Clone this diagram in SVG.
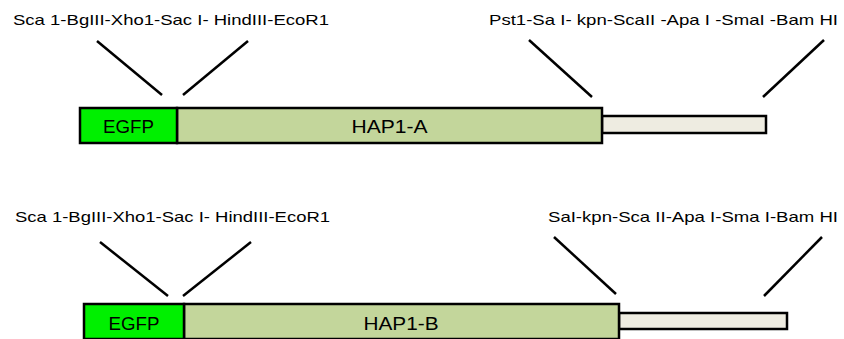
<svg xmlns="http://www.w3.org/2000/svg" width="844" height="339" viewBox="0 0 844 339">
<style>
.lbl{font-family:"Liberation Sans",Arial,sans-serif;font-size:15px;fill:#000}
.big{font-family:"Liberation Sans",Arial,sans-serif;font-size:18px;fill:#000;text-anchor:middle}
.box{stroke:#000;stroke-width:2.5}
.egfp{fill:#00F000}
.hap{fill:#C3D69B}
.tail{fill:#EEECE1}
.ln{stroke:#000;stroke-width:2.5;fill:none}
</style>
<rect width="844" height="339" fill="#fff"/>
<g id="labels">
<text class="lbl" x="13" y="25" textLength="316" lengthAdjust="spacingAndGlyphs">Sca 1-BgIII-Xho1-Sac I- HindIII-EcoR1</text>
<text class="lbl" x="489" y="25" textLength="349" lengthAdjust="spacingAndGlyphs">Pst1-Sa I- kpn-ScaII -Apa I -SmaI -Bam HI</text>
<text class="lbl" x="15" y="222" textLength="315" lengthAdjust="spacingAndGlyphs">Sca 1-BgIII-Xho1-Sac I- HindIII-EcoR1</text>
<text class="lbl" x="548" y="222" textLength="290" lengthAdjust="spacingAndGlyphs">SaI-kpn-Sca II-Apa I-Sma I-Bam HI</text>
</g>
<g id="connectors">
<line class="ln" x1="97" y1="41" x2="162" y2="95"/>
<line class="ln" x1="248" y1="41" x2="183" y2="95"/>
<line class="ln" x1="529" y1="40" x2="592" y2="97"/>
<line class="ln" x1="824" y1="40" x2="763" y2="97"/>
<line class="ln" x1="100" y1="242" x2="168" y2="296"/>
<line class="ln" x1="251" y1="242" x2="183" y2="296"/>
<line class="ln" x1="554" y1="237" x2="616" y2="294"/>
<line class="ln" x1="822" y1="237" x2="764" y2="296"/>
</g>
<g id="tail-A"><rect class="box tail" x="602" y="116" width="164" height="17"/></g>
<g id="hap1-A"><rect class="box hap" x="177" y="108" width="425" height="35"/><text class="big" x="389.5" y="133" textLength="76" lengthAdjust="spacingAndGlyphs">HAP1-A</text></g>
<g id="egfp-A"><rect class="box egfp" x="80" y="108" width="97" height="35"/><text class="big" x="128.5" y="133" textLength="51" lengthAdjust="spacingAndGlyphs">EGFP</text></g>
<g id="tail-B"><rect class="box tail" x="619" y="313" width="168" height="16"/></g>
<g id="hap1-B"><rect class="box hap" x="184" y="304" width="435" height="35"/><text class="big" x="401" y="330" textLength="75" lengthAdjust="spacingAndGlyphs">HAP1-B</text></g>
<g id="egfp-B"><rect class="box egfp" x="84" y="304" width="100" height="35"/><text class="big" x="134" y="330" textLength="51" lengthAdjust="spacingAndGlyphs">EGFP</text></g>
</svg>
